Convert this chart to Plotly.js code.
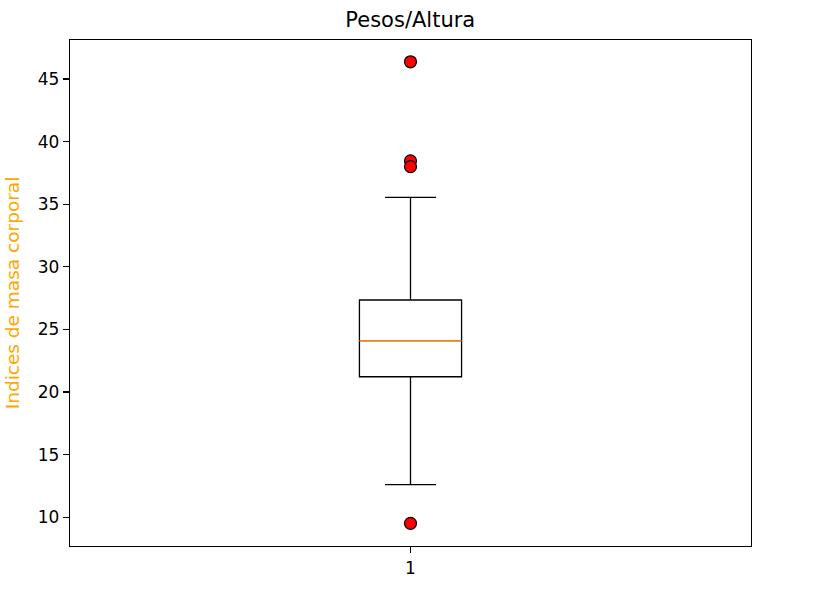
<!DOCTYPE html>
<html>
<head>
<meta charset="utf-8">
<script src="https://cdn.plot.ly/plotly-3.0.1.min.js"></script>
<style>html,body{margin:0;padding:0;background:#fff;}#chart{width:828px;height:590px;}</style>
</head>
<body>
<div id="chart"></div>
<script>
// Data
const categories = [1];
const q1 = [21.22];
const median = [24.1];
const q3 = [27.35];
const lowerWhisker = [12.6];
const upperWhisker = [35.55];
const outliers = [46.38, 38.47, 38.0, 9.51];
const yTickVals = [10, 15, 20, 25, 30, 35, 40, 45];
const xTickLabels = ['1'];

const boxWidth = 0.15;
const font = 'DejaVu Sans, sans-serif';

const traces = [
  {
    type: 'box',
    x: categories,
    q1: q1, median: median, q3: q3,
    lowerfence: lowerWhisker, upperfence: upperWhisker,
    width: boxWidth,
    whiskerwidth: 0.5,
    fillcolor: 'rgba(0,0,0,0)',
    line: {color: '#000000', width: 1.3},
    boxpoints: false,
    showlegend: false,
    hoverinfo: 'skip'
  },
  {
    type: 'scatter', mode: 'lines',
    x: [categories[0] - boxWidth / 2, categories[0] + boxWidth / 2],
    y: [median[0], median[0]],
    line: {color: '#ff7f0e', width: 1.5},
    showlegend: false, hoverinfo: 'skip'
  },
  {
    type: 'scatter', mode: 'markers',
    x: outliers.map(() => categories[0]),
    y: outliers,
    marker: {color: '#ff0000', size: 12, line: {color: '#000000', width: 1.2}},
    showlegend: false, hoverinfo: 'skip'
  }
];

const layout = {
  width: 828, height: 590,
  margin: {l: 70, r: 77, t: 40, b: 44},
  paper_bgcolor: '#ffffff', plot_bgcolor: '#ffffff',
  font: {family: font, color: '#000000', size: 17},
  title: {text: 'Pesos/Altura', font: {family: font, size: 21, color: '#000000'}, x: 0.4955, xanchor: 'center', y: 0.966, yanchor: 'middle'},
  hovermode: false,
  xaxis: {
    range: [0.5, 1.5], tickvals: categories, ticktext: xTickLabels,
    showgrid: false, zeroline: false, showline: true, mirror: true,
    linecolor: '#000000', linewidth: 1.2,
    ticks: 'outside', ticklen: 6, tickwidth: 1.2, tickcolor: '#000000',
    tickfont: {family: font, size: 17, color: '#000000'}
  },
  yaxis: {
    range: [7.7, 48.12], tickvals: yTickVals,
    showgrid: false, zeroline: false, showline: true, mirror: true,
    linecolor: '#000000', linewidth: 1.2,
    ticks: 'outside', ticklen: 6, tickwidth: 1.2, tickcolor: '#000000',
    tickfont: {family: font, size: 17, color: '#000000'},
    title: {text: 'Indices de masa corporal', font: {family: font, size: 18.5, color: '#FFA500'}, standoff: 13}
  }
};

Plotly.newPlot('chart', traces, layout, {displayModeBar: false, staticPlot: true});
</script>
</body>
</html>
